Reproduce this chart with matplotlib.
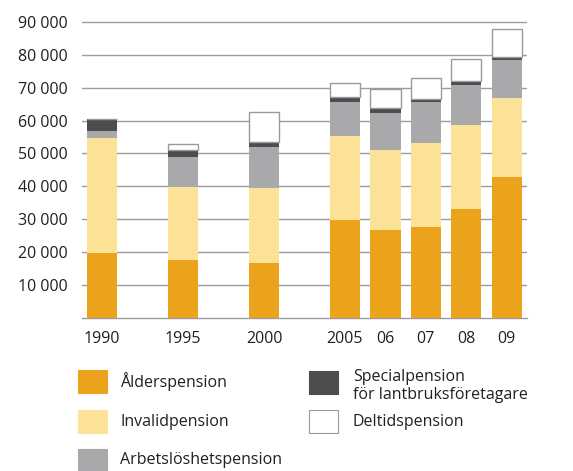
import matplotlib
matplotlib.use("Agg")
import matplotlib.pyplot as plt
from matplotlib.patches import Rectangle
import numpy as np

plt.rcParams['font.family'] = ['Open Sans', 'DejaVu Sans']

years = ["1990", "1995", "2000", "2005", "06", "07", "08", "09"]
positions = [0, 2, 4, 6, 7, 8, 9, 10]

alderspension = [19700, 17700, 16700, 29800, 26800, 27800, 33300, 43000]
invalidpension = [35100, 22200, 22700, 25600, 24300, 25300, 25400, 23900]
arbetsloshetspension = [2000, 9100, 12700, 10300, 11300, 12400, 12100, 11500]
specialpension = [3700, 2100, 1500, 1350, 1300, 1000, 1300, 1000]
deltidspension = [0, 1700, 9100, 4450, 5800, 6400, 6600, 8300]

series = [
    ("Ålderspension", alderspension, "#EBA31C", "none"),
    ("Invalidpension", invalidpension, "#FCE296", "none"),
    ("Arbetslöshetspension", arbetsloshetspension, "#A9A9AC", "none"),
    ("Specialpension\nför lantbruksföretagare", specialpension, "#4D4D4F", "none"),
    ("Deltidspension", deltidspension, "#FFFFFF", "#9A9A9E"),
]

fig = plt.figure(figsize=(5.73, 4.71), dpi=100)
ax = fig.add_axes([82/573, 1-318.3/471, 445/573, (318.3-20.0)/471])

bottom = np.zeros(len(years))
for name, vals, color, edge in series:
    vals = np.array(vals, dtype=float)
    ax.bar(positions, vals, width=0.75, bottom=bottom, color=color,
           edgecolor=edge, linewidth=1.0 if edge != "none" else 0, zorder=3)
    bottom += vals

ax.set_xlim(-0.5, 10.5)
ax.set_ylim(0, 90500)
ax.set_yticks(np.arange(10000, 90001, 10000))
ax.set_yticklabels([f"{v//1000} 000" for v in range(10000, 90001, 10000)])
ax.set_xticks(positions)
ax.set_xticklabels(years)
ax.tick_params(axis='both', length=0, labelsize=11.5, colors="#231F20")
ax.tick_params(axis='y', pad=10.5)
ax.tick_params(axis='x', pad=9)
ax.yaxis.grid(True, color="#9C9CA0", linewidth=1.0, zorder=0)
ax.set_axisbelow(True)
for s in ["top", "right", "left"]:
    ax.spines[s].set_visible(False)
ax.spines["bottom"].set_color("#9C9CA0")
ax.spines["bottom"].set_linewidth(1.0)

# Legend (manual layout)
W, H = 573, 471
def patch(x, y, color, edge):
    fig.add_artist(Rectangle((x/W, 1-(y+23)/H), 29/W, 23/H, transform=fig.transFigure,
                             facecolor=color, edgecolor=edge if edge != "none" else color,
                             linewidth=0.8))

legend_pos = [
    (78, 370, 120, 381.5),
    (78, 410, 120, 421.5),
    (78, 449, 120, 460.5),
    (309, 371, 353, 386),
    (309, 410, 353, 421.5),
]
for (name, vals, color, edge), (px, py, tx, ty) in zip(series, legend_pos):
    patch(px, py, color, edge)
    fig.text(tx/W, 1-ty/H, name, fontsize=11.5, color="#231F20", va="center", ha="left",
             linespacing=1.15)

fig.savefig("out.png", dpi=100)
